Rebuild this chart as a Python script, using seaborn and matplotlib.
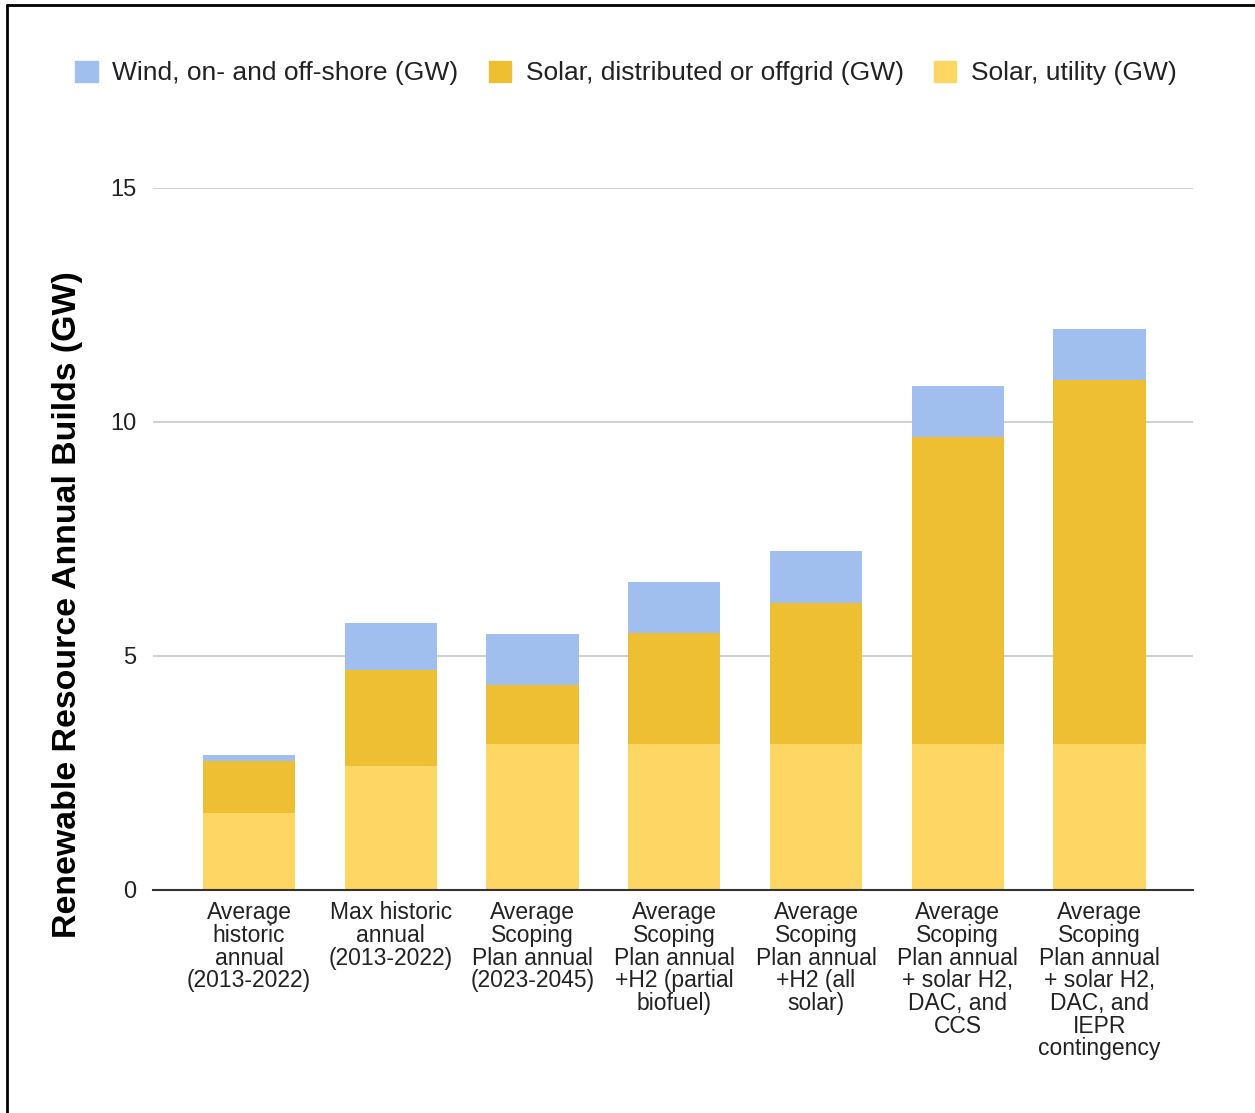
import matplotlib
matplotlib.use("Agg")
import matplotlib.pyplot as plt
from matplotlib.lines import Line2D
import seaborn as sns
import numpy as np
import pandas as pd

categories = [
    "Average\nhistoric\nannual\n(2013-2022)",
    "Max historic\nannual\n(2013-2022)",
    "Average\nScoping\nPlan annual\n(2023-2045)",
    "Average\nScoping\nPlan annual\n+H2 (partial\nbiofuel)",
    "Average\nScoping\nPlan annual\n+H2 (all\nsolar)",
    "Average\nScoping\nPlan annual\n+ solar H2,\nDAC, and\nCCS",
    "Average\nScoping\nPlan annual\n+ solar H2,\nDAC, and\nIEPR\ncontingency",
]
solar_utility = [1.64, 2.65, 3.12, 3.12, 3.12, 3.12, 3.12]
solar_distributed = [1.11, 2.05, 1.25, 2.38, 3.02, 6.57, 7.77]
wind = [0.13, 1.00, 1.09, 1.09, 1.10, 1.08, 1.09]

series_names = ["Wind, on- and off-shore (GW)", "Solar, distributed or offgrid (GW)", "Solar, utility (GW)"]
colors = {"Wind, on- and off-shore (GW)": "#a1bfee",
          "Solar, distributed or offgrid (GW)": "#eebe33",
          "Solar, utility (GW)": "#fdd663"}

sns.set_theme(style="white")
plt.rcParams["font.family"] = ["Liberation Sans", "DejaVu Sans"]

fig = plt.figure(figsize=(12.55, 11.13), dpi=100)
ax = fig.add_axes([153/1255, 1-890/1113, (1193-153)/1255, (890-188)/1113])

df = pd.DataFrame({"cat": categories, "util": solar_utility, "dist": solar_distributed, "wind": wind})
df["util_top"] = df["util"]
df["dist_top"] = df["util"] + df["dist"]
df["wind_top"] = df["dist_top"] + df["wind"]

# draw tallest first so shorter stacks overlay
sns.barplot(data=df, x="cat", y="wind_top", color=colors[series_names[0]], width=0.65,
            saturation=1, ax=ax, zorder=3)
sns.barplot(data=df, x="cat", y="dist_top", color=colors[series_names[1]], width=0.65,
            saturation=1, ax=ax, zorder=4)
sns.barplot(data=df, x="cat", y="util_top", color=colors[series_names[2]], width=0.65,
            saturation=1, ax=ax, zorder=5)
for p in ax.patches:
    p.set_linewidth(0)

ax.set_ylim(0, 15)
ax.set_xlim(-0.678, 6.66)
ax.set_yticks([0, 5, 10, 15])
ax.set_yticklabels(["0", "5", "10", "15"], fontsize=17, color="#222222")
ax.tick_params(axis="y", length=0, pad=12)
ax.tick_params(axis="x", length=0, pad=8)
ax.set_xticks(range(len(categories)))
ax.set_xticklabels(categories, fontsize=16.5, color="#222222", linespacing=0.985)
ax.set_xlabel("")
ax.set_ylabel("")
ax.grid(axis="y", color="#cccccc", linewidth=1.3, zorder=0)
ax.set_axisbelow(True)
for s in ["top", "right", "left"]:
    ax.spines[s].set_visible(False)
ax.spines["bottom"].set_color("#333333")
ax.spines["bottom"].set_linewidth(1.5)
ax.spines["bottom"].set_zorder(6)

fig.text(68/1255, 1-605/1113, "Renewable Resource Annual Builds (GW)", rotation=90,
         ha="center", va="center", fontsize=24.4, fontweight="bold", color="#000000")

handles = [plt.Rectangle((0, 0), 1, 1, color=colors[n]) for n in series_names]
leg = fig.legend(handles, series_names, loc="center", bbox_to_anchor=(626/1255, 1-73/1113),
                 ncol=3, frameon=False, fontsize=19, handlelength=0.85, handleheight=0.85,
                 columnspacing=1.15, handletextpad=0.55)
for t in leg.get_texts():
    t.set_color("#222222")

fig.add_artist(Line2D([7/1255, 7/1255], [0, 1-5/1113], color="black", linewidth=2, transform=fig.transFigure))
fig.add_artist(Line2D([7/1255, 1], [1-5/1113, 1-5/1113], color="black", linewidth=2, transform=fig.transFigure))

fig.savefig("out.png", dpi=100, facecolor="white")
